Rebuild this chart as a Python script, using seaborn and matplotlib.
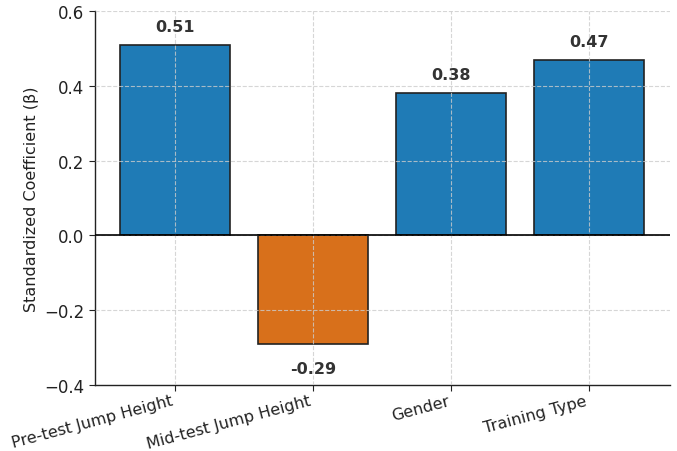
import matplotlib
matplotlib.use("Agg")
import matplotlib.pyplot as plt
import seaborn as sns
import pandas as pd

categories = ["Pre-test Jump Height", "Mid-test Jump Height", "Gender", "Training Type"]
values = [0.51, -0.29, 0.38, 0.47]
bar_colors = ["#1f7bb6", "#d8701b", "#1f7bb6", "#1f7bb6"]

df = pd.DataFrame({"var": categories, "beta": values})

sns.set_style("white")
fig = plt.figure(figsize=(6.77, 4.52), dpi=100)
ax = fig.add_axes([0.140, 0.146, 0.850, 0.827])

sns.barplot(data=df, x="var", y="beta", hue="var", palette=bar_colors,
            legend=False, width=0.8, edgecolor="#222222", linewidth=1.2,
            saturation=1, ax=ax)

ax.axhline(0, color="black", linewidth=1.2, zorder=3)
ax.set_xlim(-0.58, 3.59)
ax.set_ylim(-0.4, 0.6)
ax.set_yticks([-0.4, -0.2, 0.0, 0.2, 0.4, 0.6])
ax.set_yticklabels(["\u22120.4", "\u22120.2", "0.0", "0.2", "0.4", "0.6"])
ax.grid(True, linestyle="--", color="#cccccc", linewidth=0.8, alpha=0.8)
ax.set_axisbelow(False)

for i, v in enumerate(values):
    if v >= 0:
        ax.text(i, v + 0.03, f"{v:.2f}", ha="center", va="bottom",
                fontsize=11.5, fontweight="bold", color="#333333")
    else:
        ax.text(i, v - 0.045, f"{v:.2f}", ha="center", va="top",
                fontsize=11.5, fontweight="bold", color="#333333")

ax.set_xlabel("")
ax.set_ylabel("Standardized Coefficient (\u03b2)", fontsize=11.5, color="#222222")
ax.tick_params(axis="y", labelsize=12, colors="#222222", left=True, length=4)
ax.tick_params(axis="x", labelsize=11.5, colors="#222222", bottom=True, length=4, pad=1.5)
plt.setp(ax.get_xticklabels(), rotation=15, ha="right")
for s in ["top", "right"]:
    ax.spines[s].set_visible(False)
for s in ["left", "bottom"]:
    ax.spines[s].set_color("#222222")
    ax.spines[s].set_linewidth(1.0)

fig.savefig("out.png", dpi=100)
